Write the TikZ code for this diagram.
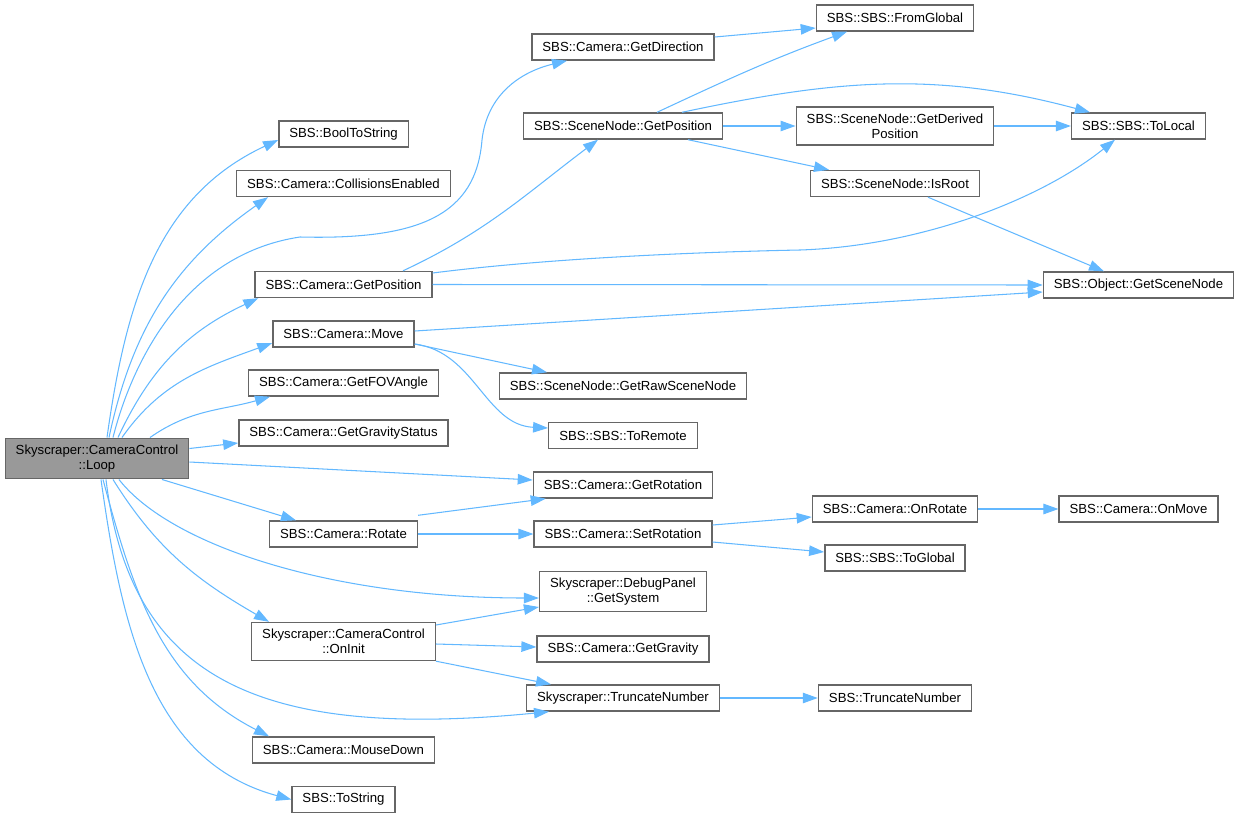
\documentclass[tikz,border=0pt]{standalone}
\usepackage{fontspec}
\setmainfont{Liberation Sans}
\usepackage{tikz}
\usetikzlibrary{arrows.meta}
\definecolor{edgeblue}{HTML}{63B8FF}
\definecolor{boxgray}{HTML}{666666}
\definecolor{loopgray}{HTML}{999999}

\begin{document}
\begin{tikzpicture}[x=0.02cm,y=-0.02cm]
	\tikzstyle{box}=[rectangle,draw=boxgray,line width=0.8pt,fill=white,inner xsep=0.21cm,inner ysep=3.8pt,minimum height=0.52cm,align=center,font=\fontsize{7.5}{8.5}\selectfont]
	\tikzstyle{current}=[box,fill=loopgray]
	\tikzstyle{call}=[draw=edgeblue,line width=0.6pt,-{Triangle[length=0.3cm,width=0.21cm]}]
	\useasboundingbox (0,0) rectangle (1238,818);
	% column 0
	\node (loop)      at (97,458.5)   [current] {Skyscraper::CameraControl\\::Loop};
	% column 1
	\node (boolstr)   at (343.5,134)   [box] {SBS::BoolToString};
	\node (collide)   at (343.5,183.5) [box] {SBS::Camera::CollisionsEnabled};
	\node (campos)    at (343.5,284.5) [box] {SBS::Camera::GetPosition};
	\node (cammove)   at (343.5,334)   [box] {SBS::Camera::Move};
	\node (fov)       at (343.5,383)   [box] {SBS::Camera::GetFOVAngle};
	\node (gravstat)  at (343.5,433)   [box] {SBS::Camera::GetGravityStatus};
	\node (rotate)    at (343.5,534)   [box] {SBS::Camera::Rotate};
	\node (oninit)    at (343.5,641.5) [box] {Skyscraper::CameraControl\\::OnInit};
	\node (mouse)     at (343.5,750)   [box] {SBS::Camera::MouseDown};
	\node (tostr)     at (343.5,799.5) [box] {SBS::ToString};
	% column 2
	\node (getdir)    at (623,47)      [box] {SBS::Camera::GetDirection};
	\node (nodepos)   at (623,126)     [box] {SBS::SceneNode::GetPosition};
	\node (rawnode)   at (623,386)     [box] {SBS::SceneNode::GetRawSceneNode};
	\node (remote)    at (623,435.5)   [box] {SBS::SBS::ToRemote};
	\node (getrot)    at (623,485)     [box] {SBS::Camera::GetRotation};
	\node (setrot)    at (623,534)     [box] {SBS::Camera::SetRotation};
	\node (system)    at (623,591.5)   [box] {Skyscraper::DebugPanel\\::GetSystem};
	\node (gravity)   at (623,649)     [box] {SBS::Camera::GetGravity};
	\node (trunc1)    at (623,698)     [box] {Skyscraper::TruncateNumber};
	% column 3
	\node (fromglob)  at (895,18)      [box] {SBS::SBS::FromGlobal};
	\node (derived)   at (895,126)     [box] {SBS::SceneNode::GetDerived\\Position};
	\node (isroot)    at (895,183.5)   [box] {SBS::SceneNode::IsRoot};
	\node (onrot)     at (895,509)     [box] {SBS::Camera::OnRotate};
	\node (toglob)    at (895,558)     [box] {SBS::SBS::ToGlobal};
	\node (trunc2)    at (895,698)     [box] {SBS::TruncateNumber};
	% column 4
	\node (tolocal)   at (1138.5,126)  [box] {SBS::SBS::ToLocal};
	\node (scenenode) at (1138.5,285)  [box] {SBS::Object::GetSceneNode};
	\node (onmove)    at (1138.5,509)  [box] {SBS::Camera::OnMove};
	% calls from Loop
	\draw [call] ([xshift=0.2cm]loop.north) to [out=82,in=205] ([yshift=-0.12cm]boolstr.west);
	\draw [call] ([xshift=0.24cm]loop.north) to [out=78,in=215] ([xshift=-1.51cm]collide.south);
	\draw [call] ([xshift=0.32cm]loop.north) .. controls (130,370) and (180,255) .. (300,237)
		.. controls (420,240) and (476,215) .. (482,140) .. controls (487,95) and (520,72) .. ([xshift=-1.12cm]getdir.south);
	\draw [call] ([xshift=0.42cm]loop.north) to [out=65,in=205] ([xshift=0.08cm]campos.south west);
	\draw [call] ([xshift=0.5cm]loop.north) to [out=55,in=200] ([yshift=-0.18cm]cammove.west);
	\draw [call] ([xshift=1.06cm]loop.north) to [out=35,in=196] ([xshift=-1.47cm]fov.south);
	\draw [call] ([yshift=0.2cm]loop.east) -- ([yshift=-0.2cm]gravstat.west);
	\draw [call] ([yshift=-0.07cm]loop.east) -- ([yshift=0.1cm]getrot.west);
	\draw [call] ([xshift=1.3cm]loop.south) -- ([xshift=-0.95cm]rotate.north);
	\draw [call] ([xshift=0.44cm]loop.south) .. controls (170,545) and (330,598) .. ([yshift=-0.13cm]system.west);
	\draw [call] ([xshift=0.32cm]loop.south) to [out=-58,in=150] ([xshift=-1.49cm]oninit.north);
	\draw [call] ([xshift=0.18cm]loop.south) .. controls (130,680) and (260,740) .. ([xshift=-1.48cm]trunc1.south);
	\draw [call] ([xshift=0.12cm]loop.south) to [out=-75,in=153] ([xshift=-1.49cm]mouse.north);
	\draw [call] ([xshift=0.08cm]loop.south) to [out=-82,in=165] (tostr.west);
	% second level
	\draw [call] ([xshift=1.19cm]campos.north) to [out=25,in=217] ([xshift=-0.5cm]nodepos.south);
	\draw [call] ([yshift=0.23cm]campos.east) .. controls (550,258) and (700,252) .. (800,250)
		.. controls (920,246) and (1040,200) .. ([xshift=-0.47cm]tolocal.south);
	\draw [call] (campos.east) -- (scenenode.west);
	\draw [call] ([yshift=0.06cm]cammove.east) -- ([yshift=-0.14cm]scenenode.west);
	\draw [call] ([yshift=-0.2cm]cammove.east) -- ([xshift=-1.52cm]rawnode.north);
	\draw [call] ([yshift=-0.2cm]cammove.east) .. controls (475,352) and (485,425) .. ([yshift=0.15cm]remote.west);
	\draw [call] ([yshift=0.1cm]rotate.north east) -- ([xshift=0.26cm]getrot.south west);
	\draw [call] (rotate.east) -- (setrot.west);
	\draw [call] ([yshift=0.33cm]oninit.east) -- ([yshift=-0.31cm]system.west);
	\draw [call] ([yshift=-0.05cm]oninit.east) -- ([yshift=0.04cm]gravity.west);
	\draw [call] (oninit.south east) -- ([xshift=-1.44cm]trunc1.north);
	% third level
	\draw [call] ([yshift=0.2cm]getdir.east) -- ([yshift=-0.2cm]fromglob.west);
	\draw [call] ([xshift=0.68cm]nodepos.north) to [out=25,in=200] ([xshift=-0.96cm]fromglob.south);
	\draw [call] ([xshift=1.18cm]nodepos.north) to [out=12,in=165] ([xshift=-0.97cm]tolocal.north);
	\draw [call] (nodepos.east) -- (derived.west);
	\draw [call] ([xshift=1.3cm]nodepos.south) -- ([xshift=-1.32cm]isroot.north);
	\draw [call] ([yshift=0.18cm]setrot.east) -- ([yshift=-0.16cm]onrot.west);
	\draw [call] ([yshift=-0.16cm]setrot.east) -- ([yshift=0.12cm]toglob.west);
	\draw [call] (trunc1.east) -- (trunc2.west);
	% last level
	\draw [call] (derived.east) -- (tolocal.west);
	\draw [call] ([xshift=0.66cm]isroot.south) -- ([xshift=-0.69cm]scenenode.north);
	\draw [call] (onrot.east) -- (onmove.west);
\end{tikzpicture}
\end{document}
